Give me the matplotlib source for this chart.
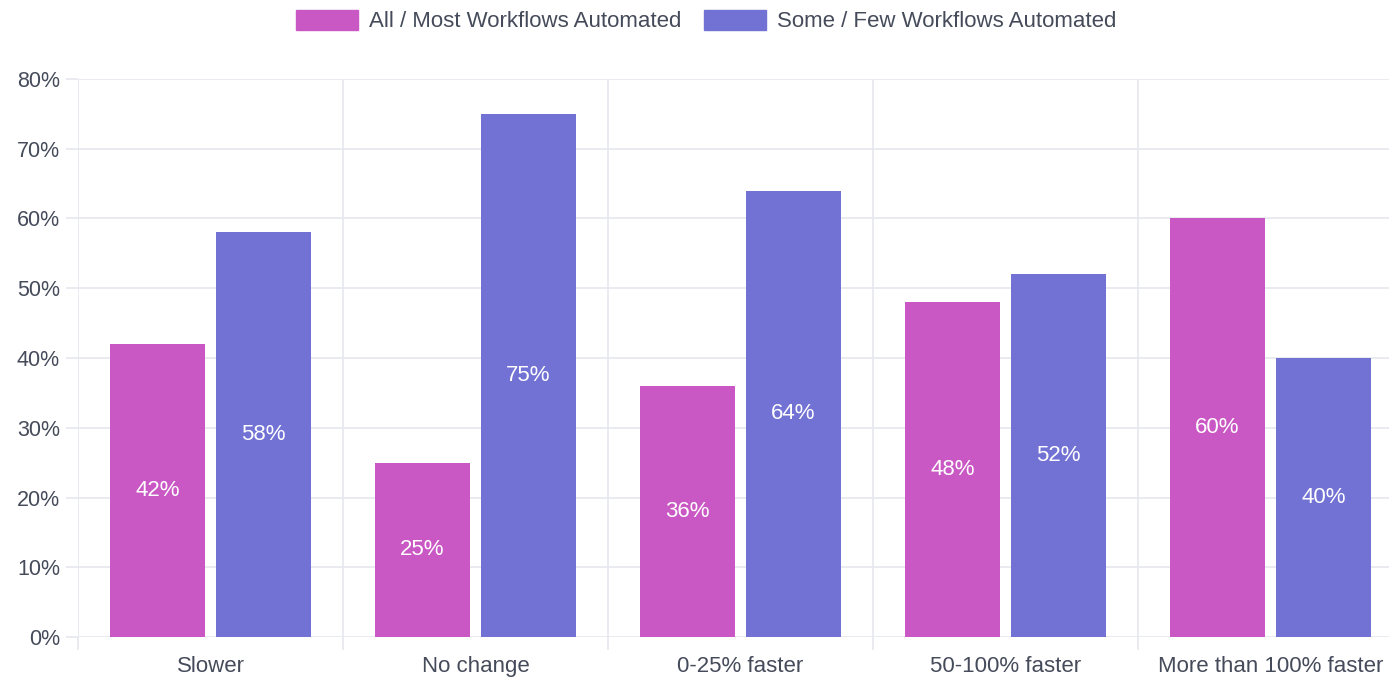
import matplotlib
matplotlib.use('Agg')
import matplotlib.pyplot as plt
import numpy as np
from matplotlib.patches import Patch

categories = ['Slower', 'No change', '0-25% faster', '50-100% faster', 'More than 100% faster']
all_most = [42, 25, 36, 48, 60]
some_few = [58, 75, 64, 52, 40]
series_names = ['All / Most Workflows Automated', 'Some / Few Workflows Automated']
y_ticks = [0, 10, 20, 30, 40, 50, 60, 70, 80]

PINK = '#C957C4'
PURPLE = '#7271D4'
GRID = '#E6E8EE'
TEXT = '#454B5A'

plt.rcParams['font.family'] = ['Liberation Sans', 'DejaVu Sans']

fig = plt.figure(figsize=(13.89, 6.79), dpi=100)
# axes run past the right edge like in the reference crop
ax = fig.add_axes([78 / 1389, 42 / 679, 1325 / 1389, 558 / 679])

x = np.arange(len(categories))
w = 0.36
b1 = ax.bar(x - 0.2, all_most, w, color=PINK, zorder=3)
b2 = ax.bar(x + 0.2, some_few, w, color=PURPLE, zorder=3)

for bars in (b1, b2):
    for bar in bars:
        h = bar.get_height()
        ax.text(bar.get_x() + bar.get_width() / 2, h / 2, f'{int(h)}%',
                ha='center', va='center', color='white', fontsize=16, zorder=4)

ax.set_xlim(-0.5, len(categories) - 0.5)
ax.set_ylim(0, 80)
ax.set_yticks(y_ticks)
ax.set_yticklabels([f'{v}%' for v in y_ticks])
ax.set_xticks(x)
ax.set_xticklabels(categories)
ax.set_xticks(np.arange(len(categories) + 1) - 0.5, minor=True)

for s in ax.spines.values():
    s.set_visible(False)

ax.grid(axis='y', color=GRID, linewidth=1.2, zorder=0)
ax.grid(axis='x', which='minor', color=GRID, linewidth=1.2, zorder=0)
ax.tick_params(axis='y', length=9, color=GRID, width=1.2, labelsize=15.5, labelcolor=TEXT, pad=4)
ax.tick_params(axis='x', which='major', length=0, labelsize=16, labelcolor=TEXT, pad=14)
ax.tick_params(axis='x', which='minor', length=9, color=GRID, width=1.2)

handles = [Patch(facecolor=PINK, edgecolor=PINK), Patch(facecolor=PURPLE, edgecolor=PURPLE)]
fig.legend(handles, series_names, loc='center', bbox_to_anchor=(706 / 1389, 1 - 21 / 679),
           ncol=2, frameon=False, fontsize=16, labelcolor=TEXT,
           handlelength=2.8, handleheight=1.05, handletextpad=0.5, columnspacing=1.0)

plt.savefig('out.png', dpi=100)
plt.close()
